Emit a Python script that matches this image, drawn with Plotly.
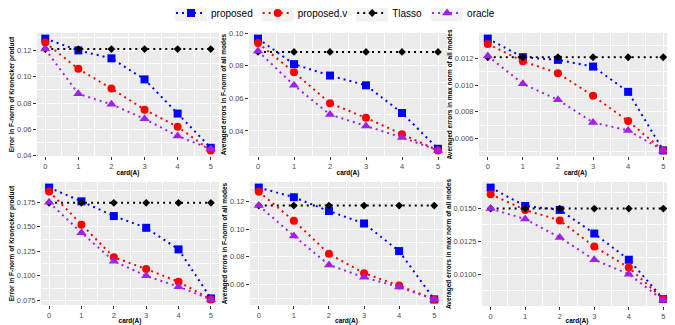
import plotly.graph_objects as go

# card(A) on the x axis, shared by every panel
card = [0, 1, 2, 3, 4, 5]

# top-left: error in F-norm of Kronecker product
p1_proposed = [0.129, 0.120, 0.114, 0.098, 0.072, 0.046]
p1_proposed_v = [0.126, 0.106, 0.091, 0.075, 0.062, 0.044]
p1_tlasso = [0.121, 0.121, 0.121, 0.121, 0.121, 0.121]
p1_oracle = [0.121, 0.087, 0.079, 0.068, 0.055, 0.045]

# top-middle: averaged errors in F-norm of all modes
p2_proposed = [0.0967, 0.081, 0.074, 0.068, 0.051, 0.029]
p2_proposed_v = [0.094, 0.076, 0.057, 0.048, 0.038, 0.028]
p2_tlasso = [0.0885, 0.0885, 0.0885, 0.0885, 0.0885, 0.0885]
p2_oracle = [0.089, 0.068, 0.050, 0.043, 0.036, 0.028]

# top-right: averaged errors in max norm of all modes
p3_proposed = [0.0135, 0.0121, 0.0119, 0.0114, 0.0095, 0.0051]
p3_proposed_v = [0.0131, 0.0118, 0.0109, 0.0092, 0.0073, 0.0051]
p3_tlasso = [0.0121, 0.0121, 0.0121, 0.0121, 0.0121, 0.0121]
p3_oracle = [0.0122, 0.0101, 0.0089, 0.0072, 0.0066, 0.0051]

# bottom-left
p4_proposed = [0.190, 0.176, 0.161, 0.149, 0.127, 0.077]
p4_proposed_v = [0.186, 0.152, 0.119, 0.107, 0.094, 0.076]
p4_tlasso = [0.1745, 0.1745, 0.1745, 0.1745, 0.1745, 0.1745]
p4_oracle = [0.175, 0.144, 0.115, 0.100, 0.089, 0.076]

# bottom-middle
p5_proposed = [0.130, 0.123, 0.113, 0.104, 0.084, 0.049]
p5_proposed_v = [0.127, 0.106, 0.082, 0.068, 0.059, 0.049]
p5_tlasso = [0.117, 0.117, 0.117, 0.117, 0.117, 0.117]
p5_oracle = [0.117, 0.095, 0.074, 0.065, 0.058, 0.049]

# bottom-right
p6_proposed = [0.0166, 0.0152, 0.0149, 0.0131, 0.0111, 0.0081]
p6_proposed_v = [0.0161, 0.0149, 0.0141, 0.0121, 0.0105, 0.0081]
p6_tlasso = [0.0150, 0.0150, 0.0150, 0.0150, 0.0150, 0.0150]
p6_oracle = [0.0150, 0.0142, 0.0128, 0.0111, 0.0100, 0.0080]

method_names = ["proposed", "proposed.v", "Tlasso", "oracle"]

y_titles = [
    "Error in F-norm of Kronecker product",
    "Averaged errors in F-norm of all modes",
    "Averaged errors in max norm of all modes",
] * 2

panels = [
    [p1_proposed, p1_proposed_v, p1_tlasso, p1_oracle],
    [p2_proposed, p2_proposed_v, p2_tlasso, p2_oracle],
    [p3_proposed, p3_proposed_v, p3_tlasso, p3_oracle],
    [p4_proposed, p4_proposed_v, p4_tlasso, p4_oracle],
    [p5_proposed, p5_proposed_v, p5_tlasso, p5_oracle],
    [p6_proposed, p6_proposed_v, p6_tlasso, p6_oracle],
]

# tick spacing / label format for each panel
tick_setup = [
    (0.02, ".2f"),
    (0.02, ".2f"),
    (0.002, ".3f"),
    (0.025, ".3f"),
    (0.02, ".2f"),
    (0.0025, ".4f"),
]

styles = [
    dict(color="#0000FF", symbol="square", size=8),
    dict(color="#FF0000", symbol="circle", size=8),
    dict(color="#000000", symbol="diamond", size=6),
    dict(color="#A020F0", symbol="triangle-up", size=9),
]

# page is shown with the browser's 8px body margin, so lay out in page
# pixels and shift everything back by that amount
OFF = 8
W, H = 675 - OFF, 325 - OFF
# panel boxes in page pixels: (left, right, top, bottom)
boxes = [
    (37, 219, 33, 156),
    (249, 447, 33, 156),
    (479, 672, 33, 156),
    (41, 219, 182, 305),
    (250, 443, 182, 305),
    (482, 672, 182, 306),
]

GREY_TXT = "#4D4D4D"
FONT = "Liberation Sans, Arial, sans-serif"

fig = go.Figure()

for i, series in enumerate(panels):
    n = i + 1
    xa = "x" if n == 1 else f"x{n}"
    ya = "y" if n == 1 else f"y{n}"
    for j, ys in enumerate(series):
        st = styles[j]
        fig.add_trace(
            go.Scatter(
                x=card,
                y=ys,
                mode="lines+markers",
                name=method_names[j],
                legendgroup=method_names[j],
                showlegend=(i == 0),
                line=dict(color=st["color"], width=2, dash="2px,4px"),
                marker=dict(color=st["color"], symbol=st["symbol"], size=st["size"]),
                xaxis=xa,
                yaxis=ya,
            )
        )

    # ggplot-like 5% expansion
    vals = [v for s in series for v in s]
    lo, hi = min(vals), max(vals)
    pad = (hi - lo) * 0.05
    dtick, fmt = tick_setup[i]

    left, right, top, bot = boxes[i]
    x0, x1 = (left - OFF) / W, (right - OFF) / W
    y0, y1 = 1 - (bot - OFF) / H, 1 - (top - OFF) / H

    fig.layout[f"xaxis{'' if n == 1 else n}"] = dict(
        domain=[x0, x1],
        anchor=ya,
        range=[-0.25, 5.25],
        tickvals=card,
        showgrid=True,
        gridcolor="white",
        gridwidth=1,
        minor=dict(dtick=0.5, tick0=0.5, showgrid=True, gridcolor="white",
                   gridwidth=0.5),
        zeroline=False,
        showline=False,
        ticks="outside",
        ticklen=3,
        tickcolor="#333333",
        tickfont=dict(size=7.5, color=GREY_TXT, family=FONT),
        title=dict(text="card(A)", font=dict(size=6.5, color="black", family=FONT,
                                             weight="bold"), standoff=0),
        automargin=False,
    )
    fig.layout[f"yaxis{'' if n == 1 else n}"] = dict(
        domain=[y0, y1],
        anchor=xa,
        range=[lo - pad, hi + pad],
        dtick=dtick,
        tick0=0,
        tickformat=fmt,
        showgrid=True,
        gridcolor="white",
        gridwidth=1,
        minor=dict(dtick=dtick / 2, tick0=dtick / 2, showgrid=True,
                   gridcolor="white", gridwidth=0.5),
        zeroline=False,
        showline=False,
        ticks="outside",
        ticklen=3,
        tickcolor="#333333",
        tickfont=dict(size=7.5, color=GREY_TXT, family=FONT),
        title=dict(text=y_titles[i], font=dict(size=6.5, color="black", family=FONT,
                                               weight="bold"), standoff=1),
        automargin=False,
    )

    # grey panel background
    fig.add_shape(
        type="rect",
        xref="paper", yref="paper",
        x0=x0, x1=x1, y0=y0, y1=y1,
        fillcolor="#EBEBEB", line=dict(width=0), layer="below",
    )

# grey key boxes behind the legend symbols (ggplot style)
LEG_LEFT = 171
LEG_MID = 13
legend_text_px = [41.7, 49.5, 29.5, 27.2]  # approx label widths at 10px
offset = 0
for tw in legend_text_px:
    cx = LEG_LEFT + offset + 20
    fig.add_shape(
        type="rect",
        xref="paper", yref="paper",
        x0=(cx - 16 - OFF) / W, x1=(cx + 16 - OFF) / W,
        y0=1 - (LEG_MID + 8.5 - OFF) / H, y1=1 - (LEG_MID - 8.5 - OFF) / H,
        fillcolor="#F2F2F2", line=dict(width=0), layer="below",
    )
    offset += tw + 40 + 5

fig.update_layout(
    template="none",
    width=W,
    height=H,
    margin=dict(l=0, r=0, t=0, b=0, autoexpand=False),
    paper_bgcolor="white",
    plot_bgcolor="rgba(0,0,0,0)",
    font=dict(family=FONT, color="black"),
    legend=dict(
        orientation="h",
        x=(LEG_LEFT - OFF) / W,
        xanchor="left",
        y=1 - (LEG_MID - OFF) / H,
        yanchor="middle",
        font=dict(size=10, family=FONT, color="black"),
        itemwidth=30,
        bgcolor="rgba(0,0,0,0)",
        tracegroupgap=0,
    ),
)

fig.write_html("out.html")
